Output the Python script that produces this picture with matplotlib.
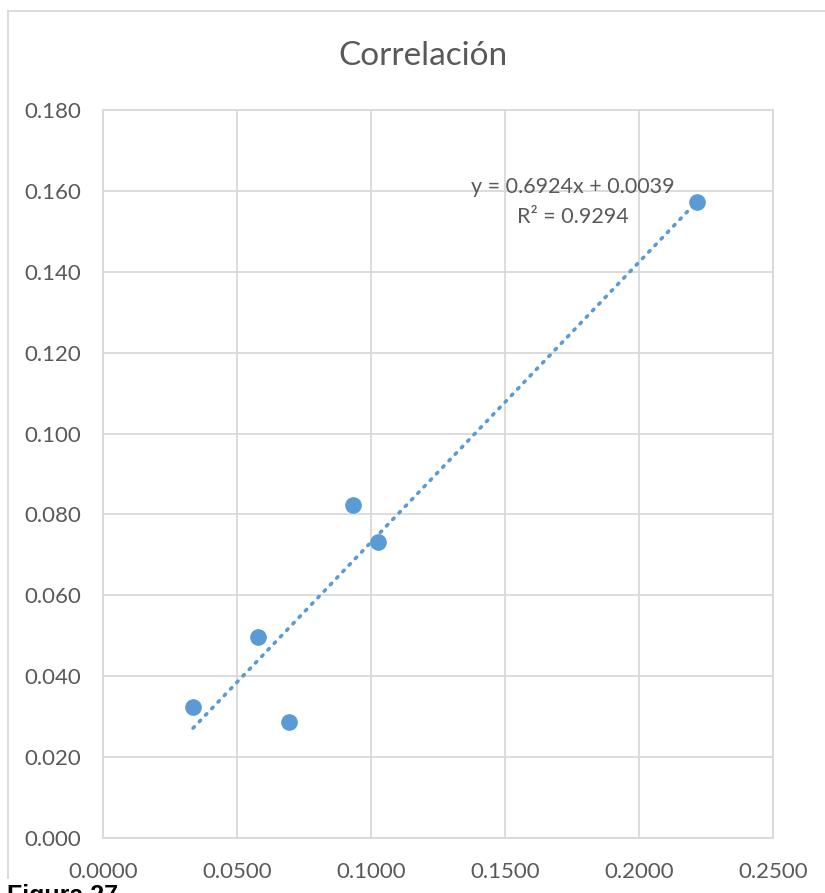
import matplotlib
matplotlib.use("Agg")
import matplotlib.pyplot as plt
from matplotlib.lines import Line2D
import numpy as np

# Data
x_vals = [0.0336, 0.0580, 0.0694, 0.0931, 0.1025, 0.2218]
y_vals = [0.0325, 0.0497, 0.0286, 0.0823, 0.0733, 0.1572]
slope, intercept, r2 = 0.6924, 0.0039, 0.9294
x_ticks = [0.0, 0.05, 0.10, 0.15, 0.20, 0.25]
y_ticks = [0.0, 0.02, 0.04, 0.06, 0.08, 0.10, 0.12, 0.14, 0.16, 0.18]
title = "Correlación"
caption = "Figura 27"

W, H = 825, 893
fig = plt.figure(figsize=(W / 100, H / 100), dpi=100)
plt.rcParams["font.family"] = ["Lato", "DejaVu Sans"]

def px(x, y):
    return x / W, 1 - y / H

grey_txt = "#595959"
grid_c = "#d9d9d9"
blue = "#5b9bd5"

# Chart frame (left and top edges)
fig.add_artist(Line2D([px(8, 0)[0]] * 2, [px(0, 11)[1], px(0, 878)[1]],
                      transform=fig.transFigure, color=grid_c, lw=1.3))
fig.add_artist(Line2D([px(8, 0)[0], 1.0], [px(0, 11)[1]] * 2,
                      transform=fig.transFigure, color=grid_c, lw=1.3))

l, b = px(103, 838)
r, t = px(773, 110)
ax = fig.add_axes([l, b, r - l, t - b])
ax.set_xlim(0, 0.25)
ax.set_ylim(0, 0.18)
ax.set_xticks(x_ticks)
ax.set_yticks(y_ticks)
ax.set_xticklabels([f"{v:.4f}" for v in x_ticks])
ax.set_yticklabels([f"{v:.3f}" for v in y_ticks])
ax.tick_params(length=0, labelsize=16, colors=grey_txt)
ax.tick_params(axis="y", pad=16)
ax.tick_params(axis="x", pad=17)
ax.grid(True, color=grid_c, lw=1.3)
ax.set_axisbelow(True)
for s in ax.spines.values():
    s.set_color(grid_c)
    s.set_linewidth(1.3)

# Linear trendline
xt = np.array([min(x_vals), max(x_vals)])
ax.plot(xt, slope * xt + intercept, color=blue, lw=2.6,
        linestyle=(0, (0.5, 2.0)), dash_capstyle="round", zorder=2)

ax.plot(x_vals, y_vals, "o", color=blue, ms=11, mec=blue, zorder=3)

ax.text(px(573, 0)[0], px(0, 187)[1], f"y = {slope:.4f}x + {intercept:.4f}",
        transform=fig.transFigure, ha="center", va="center", fontsize=15.5, color=grey_txt)
ax.text(px(573, 0)[0], px(0, 217)[1], f"R² = {r2:.4f}",
        transform=fig.transFigure, ha="center", va="center", fontsize=15.5, color=grey_txt)

fig.text(px(423, 0)[0], px(0, 56)[1], title, ha="center", va="center",
         fontsize=24, color=grey_txt)

fig.text(px(7, 0)[0], px(0, 903)[1], caption, ha="left", va="baseline",
         fontsize=18, fontweight="bold", family="Liberation Sans", color="black")

fig.savefig("out.png", dpi=100)
